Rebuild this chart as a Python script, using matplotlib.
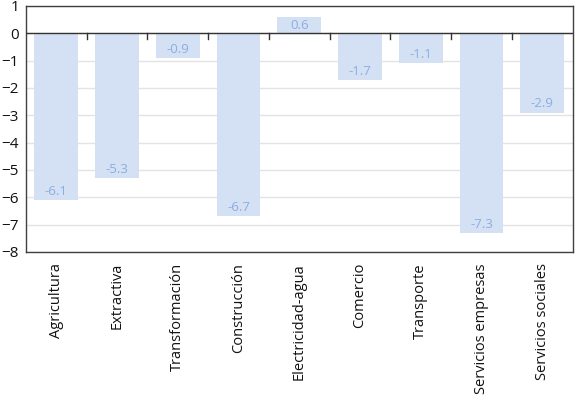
import matplotlib
matplotlib.use("Agg")
import matplotlib.pyplot as plt
import numpy as np

sectores = ["Agricultura", "Extractiva", "Transformación", "Construcción",
            "Electricidad-agua", "Comercio", "Transporte",
            "Servicios empresas", "Servicios sociales"]
valores = [-6.1, -5.3, -0.9, -6.7, 0.6, -1.7, -1.1, -7.3, -2.9]

plt.rcParams['font.family'] = ['Open Sans', 'DejaVu Sans']

fig = plt.figure(figsize=(5.76, 3.98), dpi=100)
ax = fig.add_axes([0.045, 0.367, 0.949, 0.618])

x = np.arange(len(sectores))
ax.bar(x, valores, width=0.72, color="#d4e0f3", zorder=2)

# value labels inside the bar ends
for xi, v in zip(x, valores):
    if v < 0:
        ax.text(xi, v + 0.08, f"{v:.1f}", ha="center", va="bottom",
                color="#8caee0", fontsize=9.5, zorder=3)
    else:
        ax.text(xi, v - 0.3, f"{v:.1f}", ha="center", va="center",
                color="#8caee0", fontsize=9.5, zorder=3)

ax.set_xlim(-0.5, len(sectores) - 0.5)
ax.set_ylim(-8, 1)
ax.set_yticks(range(-8, 2))
ax.yaxis.grid(True, color="#e3e3e3", linewidth=1, zorder=0)
ax.set_axisbelow(True)
ax.tick_params(axis="y", length=0, labelsize=11, pad=5, labelcolor="#111111")

# x axis sits on zero, small ticks at category boundaries
ax.axhline(0, color="#333333", linewidth=1, zorder=4)
for b in x[:-1] + 0.5:
    ax.plot([b, b], [0, -0.2], color="#333333", linewidth=1, zorder=4)
ax.set_xticks(x)
ax.set_xticklabels(sectores, rotation=90, fontsize=10.5, color="#111111")
ax.tick_params(axis="x", length=0, pad=8)

for s in ax.spines.values():
    s.set_color("#404040")
    s.set_linewidth(1)

fig.savefig("out.png", dpi=100)
